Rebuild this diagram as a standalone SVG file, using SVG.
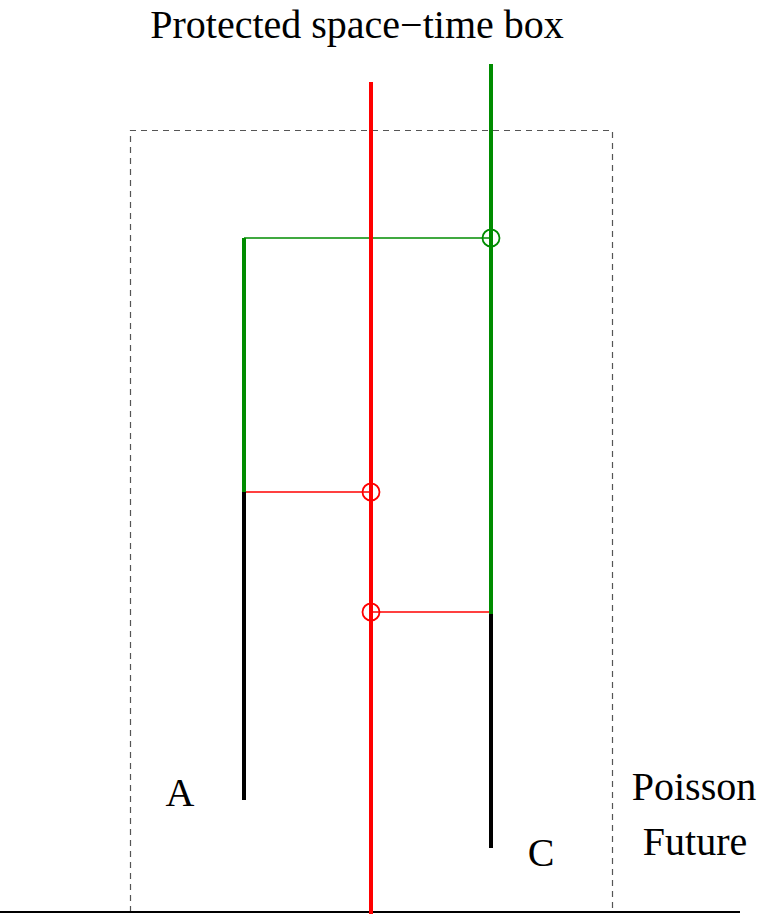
<svg xmlns="http://www.w3.org/2000/svg" width="759" height="914" viewBox="0 0 759 914">
<style>
text{font-family:"Liberation Serif","Times New Roman",serif;fill:#000;font-size:40px}
.thick{stroke-width:4;fill:none}
.thin{stroke-width:1.3;fill:none}
.g{stroke:#008c00}
.r{stroke:#ff0000}
.k{stroke:#000}
.circ{fill:none;stroke-width:1.8}
</style>
<rect width="759" height="914" fill="#fff"/>
<text x="357" y="38" text-anchor="middle">Protected space−time box</text>
<g id="box">
<path d="M130.5,912 V130.5 H612.5 V912" fill="none" stroke="#555" stroke-width="1.2" stroke-dasharray="6,5"/>
</g>
<g id="ground"><line x1="0" y1="912" x2="740" y2="912" stroke="#000" stroke-width="2"/></g>
<g id="connectors">
<line class="thin g" x1="244" y1="238" x2="491" y2="238"/>
<line class="thin r" x1="244" y1="492" x2="371" y2="492"/>
<line class="thin r" x1="371" y1="612" x2="491" y2="612"/>
</g>
<g id="red-line"><line class="thick r" x1="371" y1="82" x2="371" y2="914"/></g>
<g id="A">
<line class="thick g" x1="244" y1="238" x2="244" y2="492"/>
<line class="thick k" x1="244" y1="492" x2="244" y2="800"/>
<text x="180" y="806" text-anchor="middle">A</text>
</g>
<g id="C">
<line class="thick g" x1="491" y1="64" x2="491" y2="614"/>
<line class="thick k" x1="491" y1="614" x2="491" y2="848"/>
<text x="541" y="866" text-anchor="middle">C</text>
</g>
<g id="circles">
<circle class="circ g" cx="491" cy="238" r="8.5"/>
<circle class="circ r" cx="371" cy="492" r="8.5"/>
<circle class="circ r" cx="371" cy="612" r="8.5"/>
</g>
<g id="label">
<text x="694" y="800" text-anchor="middle">Poisson</text>
<text x="695" y="855" text-anchor="middle">Future</text>
</g>
</svg>
